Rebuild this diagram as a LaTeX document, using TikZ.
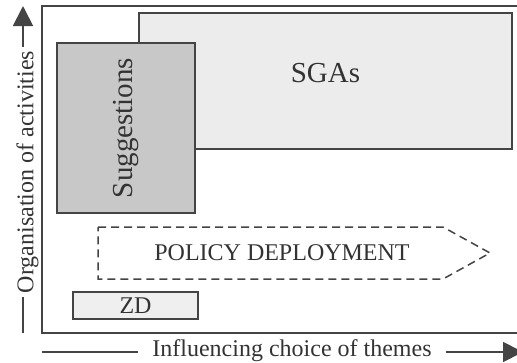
\documentclass[tikz,border=0pt]{standalone}
\usepackage{fontspec}
\setmainfont{Liberation Serif}
\usetikzlibrary{arrows.meta}
\usetikzlibrary{positioning}

\definecolor{ink}{HTML}{333333}
\definecolor{edge}{HTML}{444444}
\definecolor{sgafill}{HTML}{ECECEC}
\definecolor{sugfill}{HTML}{C8C8C8}
\definecolor{zdfill}{HTML}{EFEFEF}

\begin{document}
\begin{tikzpicture}[x=1pt,y=-1pt,
    box/.style={draw=edge,line width=2pt,inner sep=0pt,text=ink},
    big/.style={font=\fontsize{29}{34}\selectfont},
    small/.style={font=\fontsize{24}{28}\selectfont},
    axis/.style={draw=edge,line width=1.8pt},
    tip/.style={-{Triangle[width=20pt,length=20pt]}}]
    \useasboundingbox (0,0) rectangle (517,362);
    \clip (0,0) rectangle (517,362);

    % frame, open to the right
    \draw[edge,line width=2pt] (42,6) rectangle (545,333);

    \node[box,big,fill=sgafill,minimum width=373pt,minimum height=136pt,text depth=16pt] (sgas) at (325.5,81) {SGAs};
    \node[box,big,fill=sugfill,rotate=90,minimum width=170pt,minimum height=138pt] (sugg) at (126,128) {Suggestions};

    \draw[edge,line width=1.5pt,dash pattern=on 8pt off 5pt] (98,227) -- (443,227) -- (490,253) -- (443,279) -- (98,279) -- cycle;
    \node[small,text=ink] (policy) at (282,253) {POLICY DEPLOYMENT};

    \node[box,small,fill=zdfill,line width=1.5pt,minimum width=125pt,minimum height=27pt] (zd) at (135.5,305.5) {ZD};

    % axes
    \node[small,text=ink,rotate=90,inner xsep=4pt] (ylab) at (27.4,172) {Organisation of activities};
    \node[small,text=ink,inner xsep=14pt] (xlab) at (292,350.5) {Influencing choice of themes};
    \coordinate (yfoot) at (23,333);
    \coordinate (ytip) at (23,6);
    \coordinate (xfoot) at (42,352);
    \coordinate (xtip) at (523,352);

    \draw[axis] (yfoot) -- (yfoot |- ylab.west);
    \draw[axis,tip] (yfoot |- ylab.east) -- (ytip);
    \draw[axis] (xfoot) -- (xfoot -| xlab.west);
    \draw[axis,tip] (xfoot -| xlab.east) -- (xtip);
\end{tikzpicture}
\end{document}
